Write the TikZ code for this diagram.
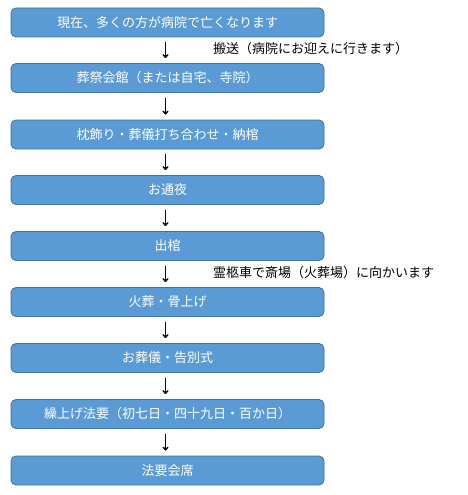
\documentclass[tikz,border=0pt]{standalone}
\usepackage{fontspec}
\setmainfont{Noto Sans CJK JP}
\usetikzlibrary{arrows.meta}
\definecolor{boxfill}{HTML}{5B9BD5}
\definecolor{boxline}{HTML}{41719C}
\begin{document}
\begin{tikzpicture}[x=1pt,y=-1pt,
  stepbox/.style={draw=boxline,line width=0.8pt,fill=boxfill,rounded corners=5pt,
    minimum width=313pt,minimum height=29pt,text=white,font=\fontsize{13}{15}\selectfont,inner sep=0pt},
  flow/.style={-{To[length=4pt,width=6pt]},line width=1.4pt,black,shorten <=5pt,shorten >=5pt},
  note/.style={anchor=west,font=\fontsize{13}{15}\selectfont,inner sep=0pt}]
\useasboundingbox (0,0) rectangle (468,495);
\node[stepbox] (b1) at (167.5,22.5) {現在、多くの方が病院で亡くなります};
\node[stepbox] (b2) at (167.5,78) {葬祭会館（または自宅、寺院）};
\node[stepbox] (b3) at (167.5,134.5) {枕飾り・葬儀打ち合わせ・納棺};
\node[stepbox] (b4) at (167.5,190) {お通夜};
\node[stepbox] (b5) at (167.5,246) {出棺};
\node[stepbox] (b6) at (167.5,302) {火葬・骨上げ};
\node[stepbox] (b7) at (167.5,358) {お葬儀・告別式};
\node[stepbox] (b8) at (167.5,414) {繰上げ法要（初七日・四十九日・百か日）};
\node[stepbox] (b9) at (167.5,470.5) {法要会席};
\foreach \a/\b in {b1/b2,b2/b3,b3/b4,b4/b5,b5/b6,b6/b7,b7/b8,b8/b9}
  \draw[flow] ([xshift=-2pt]\a.south) -- ([xshift=-2pt]\b.north);
\node[note] (n1) at (213,48.5) {搬送（病院にお迎えに行きます）};
\node[note] (n2) at (213,273) {霊柩車で斎場（火葬場）に向かいます};
\end{tikzpicture}
\end{document}
